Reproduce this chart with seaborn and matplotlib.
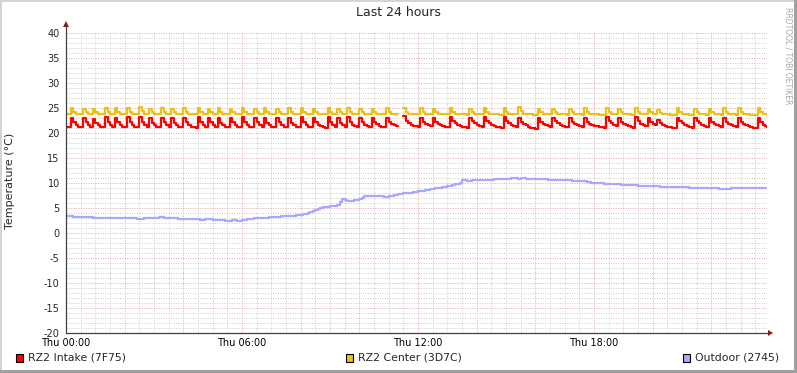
import numpy as np
import pandas as pd
import matplotlib
matplotlib.use("Agg")
import matplotlib.pyplot as plt
import seaborn as sns
from matplotlib.patches import Rectangle, Polygon
from matplotlib.lines import Line2D

# --------------------------------------------
# data: 5 minute samples over 24 hours (one row per hour)
# --------------------------------------------
intake = [
    21.3, 21.2, 23.0, 22.2, 21.6, 21.3, 21.2, 23.1, 22.2, 21.6, 21.3, 22.9,
    22.1, 21.6, 21.3, 21.2, 23.2, 22.3, 21.7, 21.3, 23.1, 22.2, 21.6, 21.3,
    21.2, 23.2, 22.3, 21.7, 21.3, 21.2, 23.2, 22.2, 21.6, 21.3, 23.0, 22.1,
    21.6, 21.3, 21.2, 23.1, 22.2, 21.6, 21.3, 23.0, 22.1, 21.6, 21.3, 21.2,
    23.1, 22.2, 21.6, 21.3, 21.2, 21.1, 23.2, 22.3, 21.7, 21.3, 23.1, 22.2,
    21.6, 21.3, 23.0, 22.1, 21.6, 21.3, 21.2, 23.1, 22.2, 21.6, 21.3, 21.2,
    23.2, 22.3, 21.7, 21.3, 21.2, 23.1, 22.2, 21.6, 21.3, 23.0, 22.1, 21.6,
    21.3, 21.2, 23.1, 22.2, 21.6, 21.3, 21.2, 23.0, 22.1, 21.6, 21.3, 21.2,
    23.2, 22.3, 21.7, 21.3, 21.2, 23.1, 22.2, 21.7, 21.4, 21.2, 21.1, 23.2,
    22.3, 21.7, 21.3, 23.0, 22.1, 21.6, 21.3, 23.2, 22.3, 21.7, 21.4, 21.2,
    23.1, 22.2, 21.7, 21.4, 21.2, 23.0, 22.2, 21.8, 21.5, 21.3, 21.2, 23.1,
    22.3, 21.9, 21.6, 21.5, 21.4, np.nan, 23.4, 22.4, 22.0, 21.7, 21.5, 21.4,
    21.3, 23.1, 22.3, 21.9, 21.6, 21.4, 23.0, 22.3, 21.9, 21.6, 21.4, 21.3,
    21.2, 23.3, 22.4, 22.0, 21.7, 21.5, 21.3, 21.2, 21.1, 23.1, 22.4, 22.0,
    21.7, 21.5, 21.3, 23.2, 22.4, 22.0, 21.7, 21.5, 21.3, 21.2, 21.1, 23.2,
    22.4, 22.0, 21.7, 21.4, 21.2, 23.1, 22.3, 21.9, 21.6, 21.3, 21.1, 21.0,
    20.9, 23.0, 22.3, 21.9, 21.6, 21.4, 21.2, 23.0, 22.4, 22.0, 21.7, 21.5,
    21.3, 21.2, 23.0, 22.3, 21.9, 21.6, 21.4, 21.2, 23.1, 22.3, 21.9, 21.7,
    21.5, 21.4, 21.3, 21.2, 21.1, 23.2, 22.4, 22.0, 21.7, 21.5, 23.1, 22.3,
    21.9, 21.6, 21.4, 21.2, 21.1, 23.2, 22.4, 21.9, 21.6, 21.4, 23.0, 22.3,
    21.9, 21.6, 22.6, 22.0, 21.7, 21.5, 21.3, 21.2, 21.1, 21.0, 23.1, 22.4,
    22.0, 21.7, 21.5, 21.3, 21.1, 23.1, 22.4, 22.0, 21.7, 21.5, 21.3, 23.0,
    22.3, 21.9, 21.6, 21.4, 21.2, 23.0, 22.3, 21.9, 21.6, 21.4, 21.2, 23.1,
    22.3, 21.9, 21.6, 21.4, 21.2, 21.1, 21.0, 23.1, 22.2, 21.7, 21.4, 21.3,
]

center = [
    23.9, 23.9, 25.0, 24.3, 23.9, 23.9, 23.9, 24.9, 24.2, 23.9, 23.9, 24.9,
    24.2, 23.9, 23.8, 23.8, 25.0, 24.3, 23.9, 23.9, 25.0, 24.3, 23.9, 23.8,
    23.8, 25.1, 24.3, 23.9, 23.9, 23.8, 25.3, 24.4, 23.9, 23.9, 24.9, 24.2,
    23.9, 23.8, 23.8, 25.0, 24.3, 23.9, 23.9, 24.9, 24.2, 23.9, 23.8, 23.8,
    25.0, 24.3, 23.9, 23.9, 23.8, 23.8, 25.0, 24.3, 23.9, 23.9, 24.9, 24.2,
    23.9, 23.9, 25.0, 24.3, 23.9, 23.8, 23.8, 24.9, 24.2, 23.9, 23.9, 23.8,
    25.0, 24.3, 23.9, 23.9, 23.8, 24.9, 24.2, 23.9, 23.9, 25.0, 24.3, 23.9,
    23.9, 23.8, 24.9, 24.2, 23.9, 23.9, 23.8, 25.0, 24.3, 23.9, 23.9, 23.8,
    25.0, 24.3, 23.9, 23.9, 23.8, 24.9, 24.2, 23.9, 23.9, 23.8, 23.8, 25.0,
    24.3, 23.9, 23.9, 24.9, 24.2, 23.9, 23.9, 25.0, 24.3, 23.9, 23.9, 23.8,
    24.9, 24.3, 23.9, 23.9, 23.8, 24.9, 24.2, 23.9, 23.9, 23.8, 23.8, 25.0,
    24.3, 23.9, 23.9, 23.8, 23.8, np.nan, 25.0, 24.3, 23.9, 23.9, 23.8, 23.8,
    23.8, 25.0, 24.3, 23.9, 23.9, 23.8, 24.9, 24.2, 23.9, 23.9, 23.8, 23.8,
    23.8, 25.1, 24.3, 23.9, 23.9, 23.8, 23.8, 23.8, 23.7, 24.9, 24.2, 23.9,
    23.9, 23.8, 23.8, 25.1, 24.3, 23.9, 23.9, 23.8, 23.8, 23.7, 23.7, 25.0,
    24.3, 23.9, 23.8, 23.8, 23.8, 25.2, 24.4, 23.9, 23.9, 23.8, 23.8, 23.7,
    23.7, 24.8, 24.2, 23.9, 23.8, 23.8, 23.8, 24.8, 24.2, 23.9, 23.8, 23.8,
    23.8, 23.7, 24.8, 24.2, 23.9, 23.8, 23.8, 23.7, 25.0, 24.3, 23.9, 23.8,
    23.8, 23.8, 23.7, 23.7, 23.7, 25.1, 24.3, 23.9, 23.8, 23.8, 24.9, 24.2,
    23.9, 23.8, 23.8, 23.7, 23.7, 25.1, 24.3, 23.9, 23.8, 23.8, 24.9, 24.2,
    23.9, 23.8, 24.6, 24.1, 23.9, 23.8, 23.8, 23.7, 23.7, 23.7, 25.0, 24.3,
    23.9, 23.8, 23.8, 23.7, 23.7, 24.9, 24.2, 23.9, 23.8, 23.8, 23.7, 24.9,
    24.2, 23.9, 23.8, 23.8, 23.7, 25.0, 24.3, 23.9, 23.8, 23.8, 23.7, 25.0,
    24.3, 23.9, 23.8, 23.8, 23.7, 23.7, 23.7, 25.1, 24.3, 23.9, 23.8, 23.8,
]

outdoor = [
    3.4, 3.4, 3.4, 3.3, 3.3, 3.3, 3.2, 3.2, 3.2, 3.2, 3.2, 3.1,
    3.1, 3.1, 3.1, 3.1, 3.0, 3.1, 3.1, 3.1, 3.0, 3.0, 3.0, 3.0,
    3.0, 3.1, 3.1, 3.0, 3.0, 2.9, 2.9, 2.9, 3.0, 3.0, 3.0, 3.1,
    3.1, 3.1, 3.2, 3.2, 3.1, 3.1, 3.0, 3.0, 3.0, 3.0, 2.9, 2.9,
    2.9, 2.9, 2.9, 2.8, 2.8, 2.8, 2.8, 2.7, 2.7, 2.8, 2.8, 2.8,
    2.7, 2.7, 2.6, 2.6, 2.6, 2.5, 2.5, 2.5, 2.6, 2.6, 2.5, 2.5,
    2.6, 2.7, 2.8, 2.9, 2.9, 3.0, 3.0, 3.0, 3.1, 3.1, 3.1, 3.2,
    3.2, 3.3, 3.3, 3.3, 3.4, 3.4, 3.4, 3.5, 3.5, 3.5, 3.6, 3.6,
    3.7, 3.8, 3.9, 4.0, 4.2, 4.4, 4.6, 4.8, 5.0, 5.2, 5.3, 5.3,
    5.4, 5.5, 5.5, 5.7, 6.3, 6.9, 6.6, 6.4, 6.4, 6.5, 6.6, 6.7,
    6.8, 7.1, 7.4, 7.5, 7.5, 7.5, 7.4, 7.4, 7.5, 7.4, 7.3, 7.3,
    7.4, 7.5, 7.6, 7.7, 7.8, 7.9, 8.0, 8.0, 8.1, 8.1, 8.2, 8.3,
    8.4, 8.5, 8.5, 8.6, 8.7, 8.8, 8.9, 9.0, 9.0, 9.1, 9.2, 9.3,
    9.4, 9.5, 9.6, 9.8, 9.9, 10.1, 10.6, 10.6, 10.5, 10.5, 10.6, 10.6,
    10.6, 10.6, 10.7, 10.7, 10.6, 10.7, 10.7, 10.8, 10.8, 10.8, 10.8, 10.9,
    10.9, 10.9, 11.0, 11.0, 11.0, 10.9, 11.0, 11.0, 10.9, 10.9, 10.9, 10.9,
    10.9, 10.8, 10.8, 10.8, 10.8, 10.7, 10.7, 10.7, 10.7, 10.7, 10.7, 10.6,
    10.6, 10.6, 10.6, 10.5, 10.5, 10.5, 10.5, 10.4, 10.4, 10.3, 10.2, 10.1,
    10.1, 10.0, 10.0, 10.0, 9.9, 9.9, 9.9, 9.9, 9.8, 9.8, 9.8, 9.7,
    9.7, 9.7, 9.6, 9.6, 9.6, 9.6, 9.5, 9.5, 9.5, 9.5, 9.4, 9.4,
    9.4, 9.4, 9.4, 9.3, 9.3, 9.3, 9.3, 9.3, 9.3, 9.2, 9.2, 9.2,
    9.2, 9.2, 9.2, 9.1, 9.1, 9.1, 9.1, 9.1, 9.0, 9.0, 9.0, 9.0,
    9.0, 9.0, 9.0, 8.9, 8.9, 8.9, 8.9, 8.9, 9.0, 9.0, 9.0, 9.0,
    9.0, 9.1, 9.0, 9.0, 9.0, 9.1, 9.1, 9.1, 9.0, 9.1, 9.1, 9.1,
]

series_names = ["RZ2 Intake (7F75)", "RZ2 Center (3D7C)", "Outdoor (2745)"]
series_colors = ["#FF0000", "#EAC117", "#A8A8FF"]
tick_hours = [0, 6, 12, 18]
tick_labels = ["Thu 00:00", "Thu 06:00", "Thu 12:00", "Thu 18:00"]

hours = np.arange(len(outdoor)) * 5 / 60.0

# --------------------------------------------
# figure
# --------------------------------------------
sns.set_style("white")
plt.rcParams["font.family"] = ["DejaVu Sans"]
plt.rcParams["axes.unicode_minus"] = False

W, H = 797, 373
fig = plt.figure(figsize=(W / 100, H / 100), dpi=100)
fig.patch.set_facecolor("white")


def fx(px):
    return px / W


def fy(py):
    return 1 - py / H


ax = fig.add_axes([fx(66), fy(333), fx(767) - fx(66), fy(33) - fy(333)])
ax.set_facecolor("white")
ax.set_xlim(0, 701 / 29.33)
ax.set_ylim(-20, 40)

# grid
ax.set_xticks(np.arange(0, 24, 2))
ax.set_xticks(np.arange(0, 24, 0.5), minor=True)
ax.set_yticks(np.arange(-20, 41, 5))
ax.set_yticks(np.arange(-20, 41, 1), minor=True)
ax.grid(which="minor", color="#CCCCCC", linestyle=(0, (1, 1.5)), linewidth=0.7)
ax.grid(which="major", color="#E3A6A6", linestyle=(0, (1, 1.5)), linewidth=0.7)
ax.set_axisbelow(True)

ax.set_xticklabels([tick_labels[tick_hours.index(h)] if h in tick_hours else ""
                    for h in range(0, 24, 2)])
ax.tick_params(axis="x", which="major", length=2, color="#D08080",
               labelsize=7, pad=1.5, labelcolor="black")
ax.tick_params(axis="y", which="major", length=3, color="#404040",
               labelsize=7, pad=1.5)
ax.tick_params(which="minor", length=0)

for s in ax.spines.values():
    s.set_visible(False)

# series
for name, vals, col in zip(series_names, [intake, center, outdoor], series_colors):
    df = pd.DataFrame({"t": hours, "v": vals})
    df["seg"] = df["v"].isna().cumsum()
    sns.lineplot(data=df, x="t", y="v", units="seg", estimator=None,
                 color=col, linewidth=1.6, drawstyle="steps-post",
                 legend=False, ax=ax, zorder=3)

ax.set_xlabel("")
ax.set_ylabel("")
fig.text(fx(10), fy(181), "Temperature (°C)", rotation=90,
         ha="center", va="center", fontsize=8)

# axes lines with arrows
axis_col = "#404040"
fig.add_artist(Line2D([fx(66), fx(769)], [fy(333), fy(333)], color=axis_col, lw=0.9))
fig.add_artist(Line2D([fx(66), fx(66)], [fy(333), fy(26)], color=axis_col, lw=0.9))
fig.add_artist(Polygon([[fx(768), fy(330)], [fx(773), fy(333)], [fx(768), fy(336)]],
                       closed=True, color="#8B1A1A", lw=0))
fig.add_artist(Polygon([[fx(63), fy(27)], [fx(66), fy(21)], [fx(69), fy(27)]],
                       closed=True, color="#8B1A1A", lw=0))

# title and watermark
fig.text(fx(398), fy(13), "Last 24 hours", ha="center", va="center", fontsize=9)
fig.text(fx(788), fy(56), "RRDTOOL / TOBI OETIKER", rotation=270,
         ha="center", va="center", fontsize=5.5, color="#A8A8A8")

# legend
legend_pos = [(16, 28), (346, 358), (683, 695)]
for (sx, tx), name, col in zip(legend_pos, series_names, series_colors):
    fig.add_artist(Rectangle((fx(sx), fy(362)), fx(7), 8 / H, facecolor=col,
                             edgecolor="black", lw=0.8))
    fig.text(fx(tx), fy(358), name, ha="left", va="center", fontsize=7.8)

# frame
fig.add_artist(Rectangle((0, 0), fx(2), 1, facecolor="#D4D4D4", lw=0))
fig.add_artist(Rectangle((0, 1 - 2 / H), 1, 2 / H, facecolor="#D4D4D4", lw=0))
fig.add_artist(Rectangle((1 - 3 / W, 0), 3 / W, 1, facecolor="#A0A0A0", lw=0))
fig.add_artist(Rectangle((0, 0), 1, 3 / H, facecolor="#A0A0A0", lw=0))

fig.savefig("out.png", dpi=100)
